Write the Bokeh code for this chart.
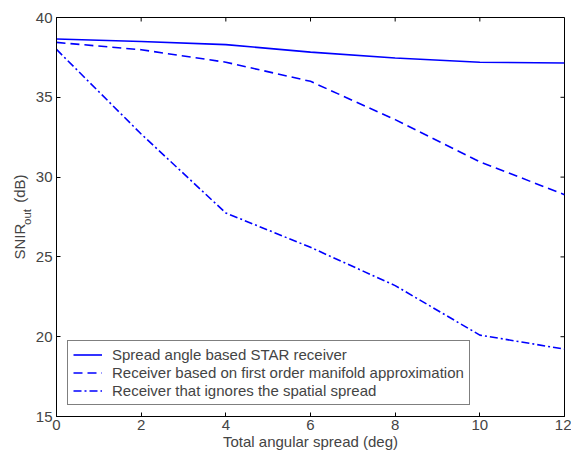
import math
from bokeh.plotting import figure
from bokeh.models import Range1d, Legend, LegendItem, FixedTicker, LinearAxis
from bokeh.embed import file_html
from bokeh.resources import INLINE

spread = [0, 2, 4, 6, 8, 10, 12]
star = [38.65, 38.5, 38.3, 37.83, 37.46, 37.2, 37.15]
first_order = [38.44, 37.98, 37.2, 36.0, 33.6, 30.96, 28.9]
ignores = [38.0, 32.7, 27.75, 25.6, 23.2, 20.1, 19.22]

x_ticks = [0, 2, 4, 6, 8, 10, 12]
y_ticks = [15, 20, 25, 30, 35, 40]

FONT = "Liberation Sans"
BLUE = "#0000ff"
NB = "\u00a0"

p = figure(width=571, height=452, output_backend="svg", toolbar_location=None,
           x_range=Range1d(0, 12), y_range=Range1d(15, 40),
           min_border_left=56, min_border_right=7, min_border_top=17, min_border_bottom=35,
           x_axis_label="Total angular spread (deg)")
p.grid.visible = False
p.outline_line_color = "black"
p.outline_line_width = 1
p.background_fill_color = "white"
p.border_fill_color = "white"

for ax, ticks in ((p.xaxis[0], x_ticks), (p.yaxis[0], y_ticks)):
    ax.ticker = FixedTicker(ticks=ticks)
    ax.major_tick_in = 4
    ax.major_tick_out = 0
    ax.minor_tick_in = 0
    ax.minor_tick_out = 0
    ax.major_label_text_font = FONT
    ax.major_label_text_font_size = "15px"
    ax.axis_label_text_font = FONT
    ax.axis_label_text_font_size = "15px"
    ax.axis_label_text_font_style = "normal"
    ax.axis_line_color = "black"
    ax.major_tick_line_color = "black"
p.xaxis.major_label_standoff = 3
p.xaxis.axis_label_standoff = 0
p.yaxis.major_label_standoff = 4

# y label: subscript "out" on the inner axis, "SNIR ... (dB)" on an outer, tick-less axis
p.yaxis.axis_label = "out"
p.yaxis.axis_label_text_font_size = "11.5px"
p.yaxis.axis_label_standoff = 0

outer = LinearAxis(ticker=FixedTicker(ticks=[]), axis_line_color=None,
                   major_tick_line_color=None, minor_tick_line_color=None,
                   axis_label="SNIR" + NB * 5 + "(dB)",
                   axis_label_text_font=FONT, axis_label_text_font_size="15px",
                   axis_label_text_font_style="normal", axis_label_standoff=-10)
p.add_layout(outer, "left")

# tick marks on the top and right edges (box style), pointing inward
p.ray(x=x_ticks, y=[40] * len(x_ticks), length=4, length_units="screen",
      angle=-math.pi / 2, line_color="black", line_width=1)
p.ray(x=[12] * len(y_ticks), y=y_ticks, length=4, length_units="screen",
      angle=math.pi, line_color="black", line_width=1)

r1 = p.line(spread, star, line_color=BLUE, line_width=1.6)
r2 = p.line(spread, first_order, line_color=BLUE, line_width=1.6, line_dash="9 5")
r3 = p.line(spread, ignores, line_color=BLUE, line_width=1.6, line_dash="8 3 2 3")

legend = Legend(items=[
    LegendItem(label="Spread angle based STAR receiver", renderers=[r1]),
    LegendItem(label="Receiver based on first order manifold approximation", renderers=[r2]),
    LegendItem(label="Receiver that ignores the spatial spread", renderers=[r3]),
], location="bottom_left")
legend.label_text_font = FONT
legend.label_text_font_size = "15px"
legend.border_line_color = "black"
legend.border_line_width = 1.5
legend.margin = 11
legend.padding = 5
legend.spacing = 1
legend.label_height = 17
legend.glyph_height = 17
legend.glyph_width = 29
legend.label_standoff = 10
legend.background_fill_alpha = 1
p.add_layout(legend, "center")

open("out.html", "w").write(file_html(p, INLINE))
